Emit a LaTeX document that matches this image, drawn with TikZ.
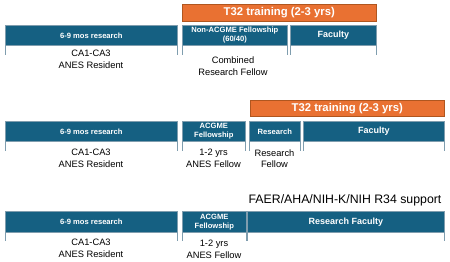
\documentclass[tikz,border=0pt]{standalone}
\usepackage{fontspec}
\setmainfont{Liberation Sans}
\definecolor{tblue}{HTML}{156082}
\definecolor{torange}{HTML}{E97132}
\definecolor{tedge}{HTML}{B0561F}
\definecolor{tline}{HTML}{7F9DAE}
\tikzset{
  bar/.style={fill=tblue, draw=tline, line width=0.6pt, text=white, anchor=north west,
    inner sep=0pt, align=center, font=\bfseries\fontsize{7.6}{9.2}\selectfont},
  bigbar/.style={bar, font=\bfseries\fontsize{9}{10}\selectfont},
  obar/.style={fill=torange, draw=tedge, line width=0.6pt, text=white, anchor=north west,
    inner sep=0pt, font=\bfseries\fontsize{11.3}{12}\selectfont},
  lbl/.style={align=center, inner sep=0pt, text=black, font=\fontsize{9.3}{11.6}\selectfont},
  tick/.style={draw=tline, line width=0.8pt},
  head/.style={inner sep=0pt, text=black, font=\fontsize{12.3}{14}\selectfont}
}
\begin{document}
\begin{tikzpicture}[x=1pt,y=-1pt]
\useasboundingbox (0,0) rectangle (450,262);
% ---------- Row 1 ----------
\node[obar, minimum width=194pt, minimum height=17pt] (t1) at (182,4) {T32 training (2-3 yrs)};
\node[bar, minimum width=172pt, minimum height=20pt] (r1a) at (5,25) {6-9 mos research};
\node[bar, minimum width=105pt, minimum height=20pt] (r1b) at (182,25) {Non-ACGME Fellowship\\(60/40)};
\node[bigbar, minimum width=86pt, minimum height=20pt] (r1c) at (290,25) {Faculty};
\foreach \n in {r1a,r1b,r1c}{
  \draw[tick] (\n.south west) -- ++(0,9);
  \draw[tick] (\n.south east) -- ++(0,9);
}
\node[lbl] (l1a) at (91,59) {CA1-CA3\\ANES Resident};
\node[lbl] (l1b) at (233,66) {Combined\\Research Fellow};
% ---------- Row 2 ----------
\node[obar, minimum width=194pt, minimum height=16pt] (t2) at (250,100) {T32 training (2-3 yrs)};
\node[bar, minimum width=172pt, minimum height=20pt] (r2a) at (5,121) {6-9 mos research};
\node[bar, minimum width=63pt, minimum height=20pt] (r2b) at (182,121) {ACGME\\Fellowship};
\node[bar, minimum width=51pt, minimum height=20pt] (r2c) at (249,121) {Research};
\node[bigbar, minimum width=141pt, minimum height=20pt] (r2d) at (303,121) {Faculty};
\foreach \n in {r2a,r2b,r2c,r2d}{
  \draw[tick] (\n.south west) -- ++(0,9);
  \draw[tick] (\n.south east) -- ++(0,9);
}
\node[lbl] (l2a) at (91,158) {CA1-CA3\\ANES Resident};
\node[lbl] (l2b) at (213.5,158.5) {1-2 yrs\\ANES Fellow};
\node[lbl] (l2c) at (274.5,158.5) {Research\\Fellow};
% ---------- Row 3 ----------
\node[head] (h3) at (345,200) {FAER/AHA/NIH-K/NIH R34 support};
\node[bar, minimum width=172pt, minimum height=21pt] (r3a) at (5,211) {6-9 mos research};
\node[bar, minimum width=64pt, minimum height=21pt] (r3b) at (182,211) {ACGME\\Fellowship};
\node[bigbar, minimum width=197pt, minimum height=21pt] (r3c) at (247,211) {Research Faculty};
\foreach \n in {r3a,r3b,r3c}{
  \draw[tick] (\n.south west) -- ++(0,8);
  \draw[tick] (\n.south east) -- ++(0,8);
}
\node[lbl] (l3a) at (91,248) {CA1-CA3\\ANES Resident};
\node[lbl] (l3b) at (214,249.5) {1-2 yrs\\ANES Fellow};
\end{tikzpicture}
\end{document}
